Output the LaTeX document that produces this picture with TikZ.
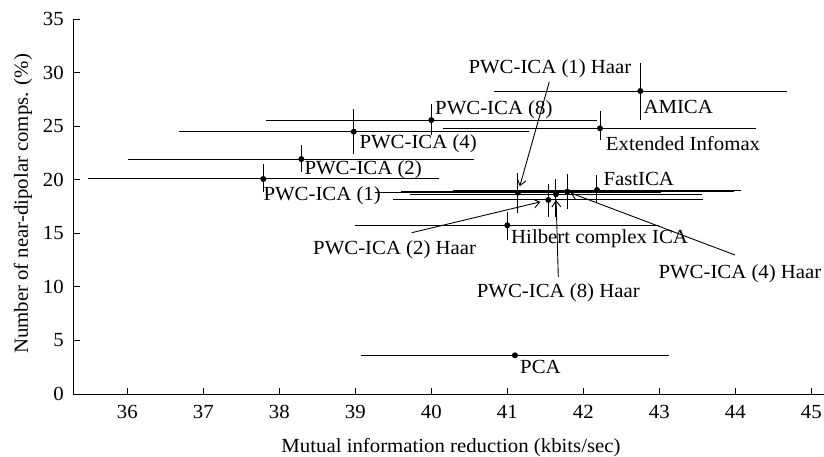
\documentclass[tikz,border=0pt]{standalone}
\usepackage{fontspec}
\setmainfont[FakeStretch=1.04]{Liberation Serif}
\usetikzlibrary{arrows.meta}
\newcommand{\ebar}[7]{%
  \draw[bar] (#4,#3) -- (#5,#3);
  \draw[bar] (#2,#6) -- (#2,#7);
  \node[dot] (#1) at (#2,#3) {};}
\begin{document}
\begin{tikzpicture}[x=1pt,y=-1pt,
  txt/.style={inner sep=0pt,font=\fontsize{20}{24}\selectfont},
  lbl/.style={txt,anchor=west},
  bar/.style={line width=1pt,black},
  axisline/.style={line width=1pt,black},
  dot/.style={circle,fill=black,inner sep=0pt,minimum size=6pt},
  arr/.style={line width=0.9pt,-{Straight Barb[length=6pt,width=9pt]}}]
\useasboundingbox (0,0) rectangle (824,457);
\begin{scope}[x=76pt,y=10.714pt,shift={(-2608.7pt,-394pt)}]
  % axes
  \draw[axisline] (35.292,35) -- (35.292,0) -- (45.167,0);
  \foreach \k in {36,...,45}{
    \draw[axisline] (\k,0) -- ++(0,6.5pt);
    \node[txt] (xt\k) at ([yshift=-18pt]\k,0) {\k};
  }
  \foreach \k in {0,5,...,35}{
    \draw[axisline] (35.292,\k) -- ++(6.5pt,0);
    \node[txt,anchor=east] (yt\k) at ([xshift=-9.5pt]35.292,\k) {\k};
  }
  % data with error bars
  \ebar{p1}{37.79}{20.07}{35.48}{40.10}{18.83}{21.44}
  \ebar{p2}{38.29}{21.93}{36.01}{40.56}{20.75}{23.24}
  \ebar{p4}{38.98}{24.48}{36.68}{41.28}{22.40}{26.57}
  \ebar{p8}{40.00}{25.57}{37.83}{42.18}{24.17}{27.07}
  \ebar{ext}{42.22}{24.80}{40.16}{44.27}{23.71}{26.44}
  \ebar{ami}{42.75}{28.28}{40.82}{44.68}{25.57}{30.92}
  \ebar{h1}{41.14}{18.79}{39.26}{43.02}{16.92}{20.65}
  \ebar{h2}{41.54}{18.11}{39.50}{43.58}{16.55}{19.60}
  \ebar{h8}{41.64}{18.64}{39.72}{43.56}{16.55}{20.04}
  \ebar{h4}{41.79}{18.88}{39.60}{43.98}{17.27}{20.53}
  \ebar{fast}{42.18}{19.04}{40.28}{44.08}{17.80}{20.44}
  \ebar{hil}{41.00}{15.75}{39.00}{43.00}{14.37}{17.01}
  \draw[bar] (39.07,3.61) -- (43.13,3.61);
  \node[dot] (pca) at (41.10,3.61) {};
\end{scope}
% axis titles
\node[txt] (xtitle) at (451,448) {Mutual information reduction (kbits/sec)};
\node[txt,rotate=90] (ytitle) at (23,204) {Number of near-dipolar comps. (\%)};
% point labels
\node[lbl] (lp1) at (263.3,195.7) {PWC-ICA (1)};
\node[lbl] (lp2) at (304.3,169.5) {PWC-ICA (2)};
\node[lbl] (lp4) at (359.3,144) {PWC-ICA (4)};
\node[lbl] (lp8) at (435,109.3) {PWC-ICA (8)};
\node[lbl] (lami) at (643.3,106.7) {AMICA};
\node[lbl] (lext) at (605.7,143.3) {Extended Infomax};
\node[lbl] (lh1) at (468.3,68.3) {PWC-ICA (1) Haar};
\node[lbl] (lfast) at (603.3,179.3) {FastICA};
\node[lbl] (lhil) at (511,238.3) {Hilbert complex ICA};
\node[lbl] (lh2) at (313,249.3) {PWC-ICA (2) Haar};
\node[lbl] (lh8) at (476.7,292.7) {PWC-ICA (8) Haar};
\node[lbl] (lh4) at (658.3,273.3) {PWC-ICA (4) Haar};
\node[lbl] (lpca) at (520,367) {PCA};
% leader arrows
\coordinate (a1) at (549.3,81.7);
\coordinate (a2) at (411.7,232.7);
\coordinate (a8) at (558.3,277);
\coordinate (a4) at (735,255);
\draw[arr,shorten >=3.5pt] (a1) -- (h1);
\draw[arr,shorten >=5pt] (a2) -- (h2);
\draw[arr,shorten >=2.7pt] (a8) -- (h8);
\draw[arr,shorten >=0.5pt] (a4) -- (h4);
\end{tikzpicture}
\end{document}
